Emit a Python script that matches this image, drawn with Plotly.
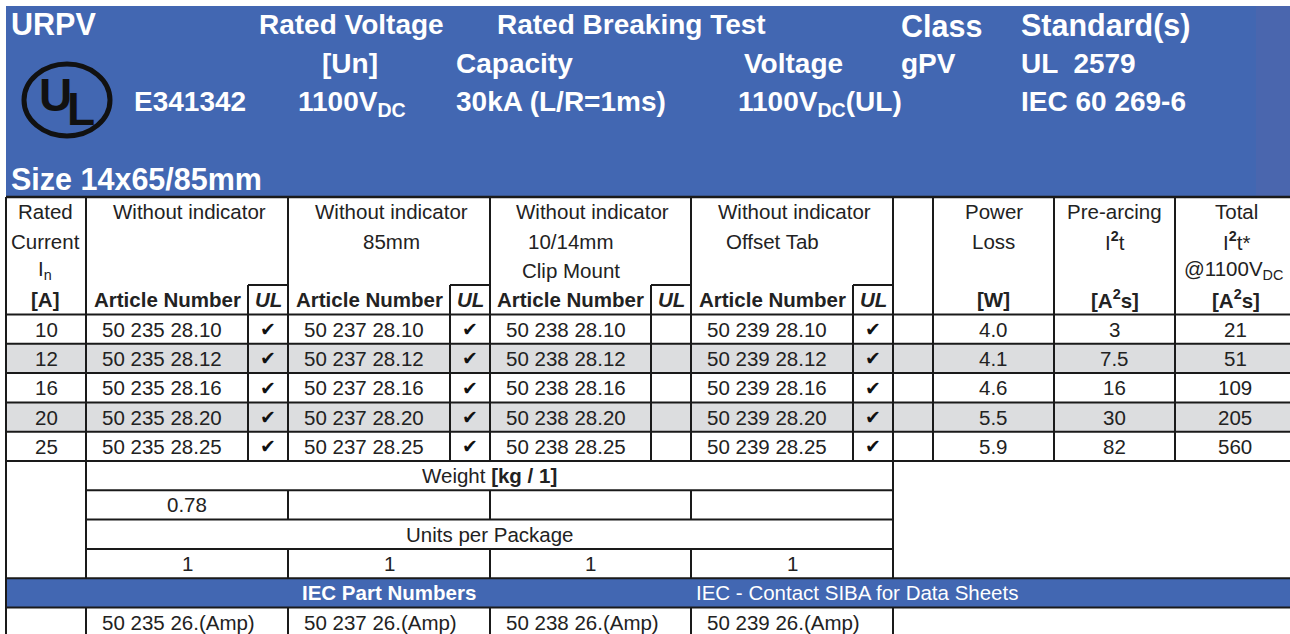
import plotly.graph_objects as go

# ---------------- data ----------------
ratings = ["10", "12", "16", "20", "25"]
article_bases = ["50 235 28", "50 237 28", "50 238 28", "50 239 28"]
ul_listed = [True, True, False, True]
power_loss = ["4.0", "4.1", "4.6", "5.5", "5.9"]
pre_arcing = ["3", "7.5", "16", "30", "82"]
total_i2t = ["21", "51", "109", "205", "560"]
weights = ["0.78", "", "", ""]
units_per_pkg = ["1", "1", "1", "1"]
iec_parts = ["50 235 26.(Amp)", "50 237 26.(Amp)", "50 238 26.(Amp)", "50 239 26.(Amp)"]
group_titles = [["Without indicator"],
                ["Without indicator", "85mm"],
                ["Without indicator", "10/14mm", "Clip Mount"],
                ["Without indicator", "Offset Tab"]]
rated_head = ["Rated", "Current", "I<sub>n</sub>", "<b>[A]</b>"]
power_head = ["Power", "Loss", "", "<b>[W]</b>"]
prearc_head = ["Pre-arcing", "I<sup><b>2</b></sup>t", "", "<b>[A<sup>2</sup>s]</b>"]
total_head = ["Total", "I<sup><b>2</b></sup>t*", "@1100V<sub>DC</sub>", "<b>[A<sup>2</sup>s]</b>"]

title_main = "URPV"
ul_file = "E341342"
size_text = "Size 14x65/85mm"
hdr_rated_v = ["Rated Voltage", "[Un]", "1100V<sub>DC</sub>"]
hdr_breaking = ["Rated Breaking Test", "Capacity", "30kA (L/R=1ms)"]
hdr_test_v = ["Voltage", "1100V<sub>DC</sub>(UL)"]
hdr_class = ["Class", "gPV"]
hdr_std = ["Standard(s)", "UL  2579", "IEC 60 269-6"]
weight_label = "Weight <b>[kg / 1]</b>"
units_label = "Units per Package"
iec_label = "<b>IEC Part Numbers</b>"
iec_note = "IEC - Contact SIBA for Data Sheets"

# ---------------- layout geometry / style ----------------
W, H = 1290, 634
BLUE = "#4267B2"
BLUE2 = "#4A66AE"
GRAY = "#DCDDDF"
LINE = "#1a1a1a"
TXT = "#222222"
FONT = "Liberation Sans, Arial, sans-serif"
NARROW = "Liberation Sans Narrow, Arial Narrow, sans-serif"
FS = 20.5
HFS = 28
HFS_BIG = 30.5

XE = [6, 86, 248, 288, 450, 490, 651, 691, 853, 893, 933, 1054, 1175, 1297]
T_TOP = 197
UL_TOP = 285
HEAD_Y = [211, 241, 270, 299]
D_TOP = 314.5
RH = 29.3

shapes = []
ann = []


def rect(x0, y0, x1, y1, color):
    shapes.append(dict(type="rect", xref="x", yref="y", x0=x0, x1=x1, y0=y0, y1=y1,
                       fillcolor=color, line=dict(width=0), layer="below"))


def hline(y, x0, x1, w=2):
    shapes.append(dict(type="line", xref="x", yref="y", x0=x0, x1=x1, y0=y, y1=y,
                       line=dict(color=LINE, width=w)))


def vline(x, y0, y1, w=2):
    shapes.append(dict(type="line", xref="x", yref="y", x0=x, x1=x, y0=y0, y1=y1,
                       line=dict(color=LINE, width=w)))


def text(t, x, y, size=FS, color=TXT, anchor="center", family=FONT, pad=1):
    ann.append(dict(text=t, x=x, y=y, xref="x", yref="y", showarrow=False,
                    xanchor=anchor, yanchor="middle", borderpad=pad,
                    font=dict(size=size, color=color, family=family)))


# ---- blue header ----
rect(6, 6, W + 5, 196, BLUE)
rect(1256, 6, W + 5, 196, BLUE2)
white = "white"
text("<b>%s</b>" % title_main, 9, 24, HFS_BIG, white, "left")
text("<b>%s</b>" % hdr_rated_v[0], 257, 24, HFS, white, "left")
text("<b>%s</b>" % hdr_breaking[0], 495, 24, HFS, white, "left")
text("<b>%s</b>" % hdr_class[0], 899, 26, HFS_BIG, white, "left")
text("<b>%s</b>" % hdr_std[0], 1019, 25, HFS_BIG, white, "left")
text("<b>%s</b>" % hdr_rated_v[1], 320, 63, HFS, white, "left")
text("<b>%s</b>" % hdr_breaking[1], 454, 63, HFS, white, "left")
text("<b>%s</b>" % hdr_test_v[0], 742, 63, HFS, white, "left")
text("<b>%s</b>" % hdr_class[1], 899, 63, HFS, white, "left")
text("<b>%s</b>" % hdr_std[1], 1019, 63, HFS, white, "left")
text("<b>%s</b>" % ul_file, 132, 101, HFS, white, "left")
text("<b>%s</b>" % hdr_rated_v[2], 296, 103, HFS, white, "left")
text("<b>%s</b>" % hdr_breaking[2], 454, 101, HFS, white, "left")
text("<b>%s</b>" % hdr_test_v[1], 736, 103, HFS, white, "left")
text("<b>%s</b>" % hdr_std[2], 1019, 101, HFS, white, "left")
text("<b>%s</b>" % size_text, 9, 179, HFS_BIG, white, "left")

# UL logo
shapes.append(dict(type="circle", xref="x", yref="y", x0=24, x1=110, y0=64, y1=136,
                   line=dict(color="#111111", width=5), fillcolor="rgba(0,0,0,0)"))
text("<b>U</b>", 55, 95, 46, "#111111", "center", NARROW, 0)
text("<b>L</b>", 81, 109, 46, "#111111", "center", NARROW, 0)

# ---- gray stripes ----
for i in range(len(ratings)):
    if i % 2 == 1:
        rect(6, D_TOP + i * RH, W + 5, D_TOP + (i + 1) * RH, GRAY)

D_BOT = D_TOP + len(ratings) * RH
WR = [D_BOT + k * RH for k in range(5)]   # weight section row edges
IEC_TOP = WR[4]
IEC_BOT = IEC_TOP + RH
LAST_BOT = IEC_BOT + RH

# IEC bar
rect(6, IEC_TOP, W + 5, IEC_BOT, BLUE)

# ---- grid lines ----
hline(T_TOP, 6, W + 5, 2.5)
for g in range(4):
    hline(UL_TOP, XE[2 + 2 * g], XE[3 + 2 * g])
for i in range(len(ratings) + 1):
    hline(D_TOP + i * RH, 6, W + 5)
for k in (1, 2, 3):
    hline(WR[k], XE[1], XE[9])
hline(IEC_TOP, 6, W + 5)
hline(IEC_BOT, 6, W + 5)

vline(6, T_TOP, LAST_BOT + 5)
vline(XE[1], T_TOP, IEC_TOP)
vline(XE[1], IEC_BOT, LAST_BOT + 5)
vline(XE[9], T_TOP, IEC_TOP)
vline(XE[9], IEC_BOT, LAST_BOT + 5)
for g in range(4):
    vline(XE[2 + 2 * g], UL_TOP, D_BOT)
for g in range(1, 4):
    xg = XE[1 + 2 * g]
    vline(xg, T_TOP, D_BOT)
    vline(xg, WR[1], WR[2])
    vline(xg, WR[3], WR[4])
    vline(xg, IEC_BOT, LAST_BOT + 5)
for x in (XE[10], XE[11], XE[12]):
    vline(x, T_TOP, D_BOT)

# ---- table header text ----
cx = lambda a, b: (a + b) / 2
for j, t in enumerate(rated_head):
    text(t, cx(XE[0], XE[1]) - 1, HEAD_Y[j])
for g in range(4):
    a, m, b = XE[1 + 2 * g], XE[2 + 2 * g], XE[3 + 2 * g]
    for j, t in enumerate(group_titles[g]):
        xc = cx(a, b) + 2 if (j == 0 or g == 1) else cx(a, m)
        text(t, xc, HEAD_Y[j])
    text("<b>Article Number</b>", cx(a, m), HEAD_Y[3])
    text("<b><i>UL</i></b>", cx(m, b), HEAD_Y[3])
for col, head in ((10, power_head), (11, prearc_head), (12, total_head)):
    for j, t in enumerate(head):
        if t:
            text(t, cx(XE[col], XE[col + 1]) + (-3 if col == 12 and j == 2 else 0), HEAD_Y[j])

# ---- data rows ----
for i, r in enumerate(ratings):
    yc = D_TOP + (i + 0.5) * RH
    text(r, cx(XE[0], XE[1]), yc)
    for g in range(4):
        a, m, b = XE[1 + 2 * g], XE[2 + 2 * g], XE[3 + 2 * g]
        text("%s.%s" % (article_bases[g], r), a + 14, yc, anchor="left")
        if ul_listed[g]:
            text("✔", cx(m, b), yc, 19, "#111111", family="DejaVu Sans, sans-serif")
    text(power_loss[i], cx(XE[10], XE[11]), yc)
    text(pre_arcing[i], cx(XE[11], XE[12]), yc)
    text(total_i2t[i], cx(XE[12], XE[13]) - 1, yc)

# ---- weight / package section ----
text(weight_label, cx(XE[1], XE[9]), cx(WR[0], WR[1]))
text(units_label, cx(XE[1], XE[9]), cx(WR[2], WR[3]))
for g in range(4):
    a, b = XE[1 + 2 * g], XE[3 + 2 * g]
    if weights[g]:
        text(weights[g], cx(a, b), cx(WR[1], WR[2]))
    text(units_per_pkg[g], cx(a, b), cx(WR[3], WR[4]))

# ---- IEC section ----
text(iec_label, cx(XE[3], XE[5]), cx(IEC_TOP, IEC_BOT), FS, "white")
text(iec_note, XE[7] + 3, cx(IEC_TOP, IEC_BOT), FS, "white", "left")
for g in range(4):
    text(iec_parts[g], XE[1 + 2 * g] + 14, cx(IEC_BOT, LAST_BOT), anchor="left")

fig = go.Figure()
fig.update_layout(
    width=W, height=H, margin=dict(l=0, r=0, t=0, b=0),
    paper_bgcolor="white", plot_bgcolor="white",
    xaxis=dict(range=[0, W], visible=False, fixedrange=True),
    yaxis=dict(range=[H, 0], visible=False, fixedrange=True),
    shapes=shapes, annotations=ann, showlegend=False,
)
fig.write_html("out.html", config={"displayModeBar": False},
               post_script="document.body.style.margin='0';document.body.style.overflow='hidden';")
